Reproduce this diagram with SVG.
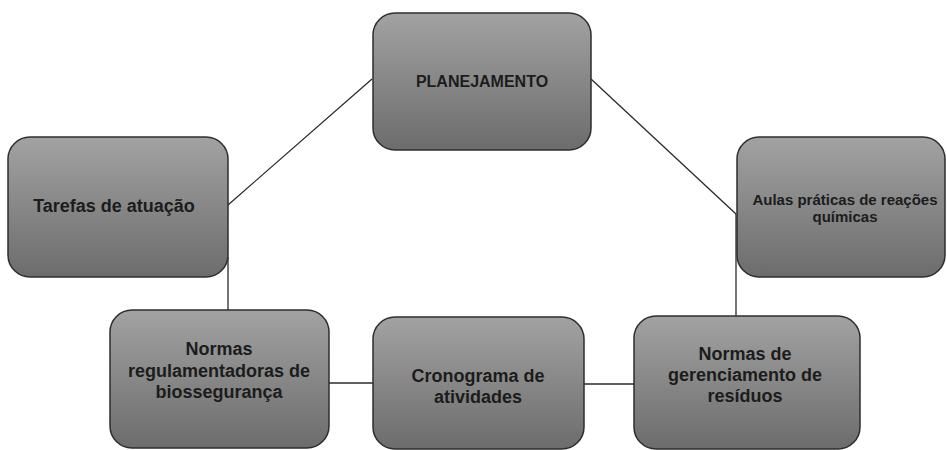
<svg xmlns="http://www.w3.org/2000/svg" width="947" height="450" viewBox="0 0 947 450">
<defs>
<linearGradient id="g" x1="0" y1="0" x2="0" y2="1">
<stop offset="0" stop-color="#a2a2a2"/>
<stop offset="1" stop-color="#6c6c6c"/>
</linearGradient>
<style>
.box{fill:url(#g);stroke:#2e2e2e;stroke-width:1.5}
.t{font-family:"Liberation Sans",Arial,sans-serif;font-weight:bold;fill:#1c1c1c;text-anchor:middle}
.c{stroke:#2a2a2a;stroke-width:1.3;fill:none}
</style>
</defs>
<rect width="947" height="450" fill="#ffffff"/>
<g id="connectors">
<line class="c" x1="372" y1="79" x2="228" y2="205"/>
<line class="c" x1="591" y1="79" x2="736" y2="214"/>
<line class="c" x1="228" y1="257" x2="228" y2="310"/>
<line class="c" x1="736" y1="214" x2="736" y2="316"/>
<line class="c" x1="329" y1="383" x2="373" y2="383"/>
<line class="c" x1="584" y1="384" x2="634" y2="384"/>
</g>
<g id="planejamento">
<rect class="box" x="373" y="13" width="218" height="137" rx="22"/>
<text class="t" x="482" y="87" font-size="16">PLANEJAMENTO</text>
</g>
<g id="tarefas">
<rect class="box" x="8" y="137" width="220" height="140" rx="22"/>
<text class="t" x="114" y="212" font-size="18">Tarefas de atuação</text>
</g>
<g id="aulas">
<rect class="box" x="737" y="137" width="208" height="140" rx="22"/>
<text class="t" x="845" y="205" font-size="15">Aulas práticas de reações</text>
<text class="t" x="845" y="222" font-size="15">químicas</text>
</g>
<g id="normas-bio">
<rect class="box" x="110" y="310" width="219" height="138" rx="22"/>
<text class="t" x="219" y="355" font-size="18">Normas</text>
<text class="t" x="219" y="377" font-size="18">regulamentadoras de</text>
<text class="t" x="219" y="398" font-size="18">biossegurança</text>
</g>
<g id="cronograma">
<rect class="box" x="373" y="317" width="211" height="132" rx="22"/>
<text class="t" x="478" y="382" font-size="18">Cronograma de</text>
<text class="t" x="478" y="403" font-size="18">atividades</text>
</g>
<g id="normas-res">
<rect class="box" x="634" y="316" width="226" height="133" rx="22"/>
<text class="t" x="745" y="360" font-size="18">Normas de</text>
<text class="t" x="745" y="381" font-size="18">gerenciamento de</text>
<text class="t" x="745" y="402" font-size="18">resíduos</text>
</g>
</svg>
